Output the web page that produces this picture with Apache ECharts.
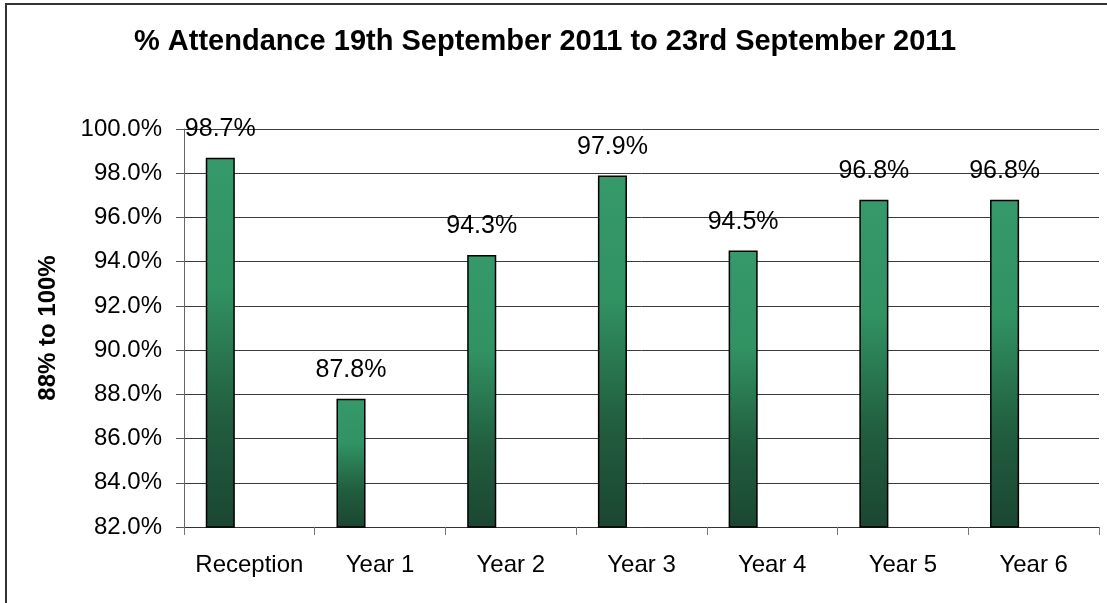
<!DOCTYPE html>
<html>
<head>
<meta charset="utf-8">
<script src="https://cdn.jsdelivr.net/npm/echarts@6/dist/echarts.min.js"></script>
<style>
  html, body { margin: 0; padding: 0; background: #fff; }
  #chart { width: 1107px; height: 603px; }
</style>
</head>
<body>
<div id="chart"></div>
<script>
// data
var categories = ["Reception", "Year 1", "Year 2", "Year 3", "Year 4", "Year 5", "Year 6"];
var attendance = [98.7, 87.8, 94.3, 97.9, 94.5, 96.8, 96.8];
// excel chart had two more (empty) series next to the real one
var emptySeries = ["-", "-", "-", "-", "-", "-", "-"];

var font = "Liberation Sans, Arial, sans-serif";

var chart = echarts.init(document.getElementById("chart"));

var barColor = new echarts.graphic.LinearGradient(0, 0, 0, 1, [
  { offset: 0, color: "#35996a" },
  { offset: 0.35, color: "#319262" },
  { offset: 0.7, color: "#215e3f" },
  { offset: 1, color: "#1b4631" },
]);

chart.setOption({
  animation: false,
  backgroundColor: "#fff",
  textStyle: { fontFamily: font },
  title: {
    text: "% Attendance 19th September 2011 to 23rd September 2011",
    left: 540,
    textAlign: "center",
    top: 22,
    textStyle: { fontSize: 29, fontWeight: "bold", color: "#000", fontFamily: font },
  },
  graphic: [
    {
      type: "rect",
      shape: { x: 6, y: 4, width: 1120, height: 620 },
      style: { fill: "none", stroke: "#333", lineWidth: 2 },
      silent: true,
    },
  ],
  grid: { left: 184, right: 8, top: 129, bottom: 76 },
  xAxis: {
    type: "category",
    data: categories,
    boundaryGap: true,
    axisLine: { show: true, lineStyle: { color: "#333", width: 1 } },
    axisTick: { show: true, length: 8, interval: 0, lineStyle: { color: "#777" } },
    axisLabel: { fontSize: 24, color: "#000", margin: 26, interval: 0, fontFamily: font },
  },
  yAxis: {
    type: "value",
    min: 82,
    max: 100,
    interval: 2,
    name: "88% to 100%",
    nameLocation: "middle",
    nameGap: 124,
    nameRotate: 90,
    nameTextStyle: { fontSize: 24, fontWeight: "bold", color: "#000", fontFamily: font },
    axisLine: { show: true, lineStyle: { color: "#666", width: 1 } },
    axisTick: { show: true, length: 8, lineStyle: { color: "#555" } },
    axisLabel: {
      fontSize: 24,
      color: "#000",
      margin: 22,
      fontFamily: font,
      formatter: function (v) { return v.toFixed(1) + "%"; },
    },
    splitLine: { show: true, lineStyle: { color: "#3a3a3a", width: 1 } },
  },
  series: [
    {
      type: "bar",
      data: attendance,
      barGap: "0%",
      barCategoryGap: "33.3%",
      itemStyle: { color: barColor, borderColor: "#000", borderWidth: 1.5 },
      label: {
        show: true,
        position: "top",
        distance: 16,
        fontSize: 25,
        color: "#000",
        fontFamily: font,
        formatter: function (p) { return p.value.toFixed(1) + "%"; },
      },
    },
    { type: "bar", data: emptySeries, barGap: "0%", barCategoryGap: "33.3%" },
    { type: "bar", data: emptySeries, barGap: "0%", barCategoryGap: "33.3%" },
  ],
});
</script>
</body>
</html>
